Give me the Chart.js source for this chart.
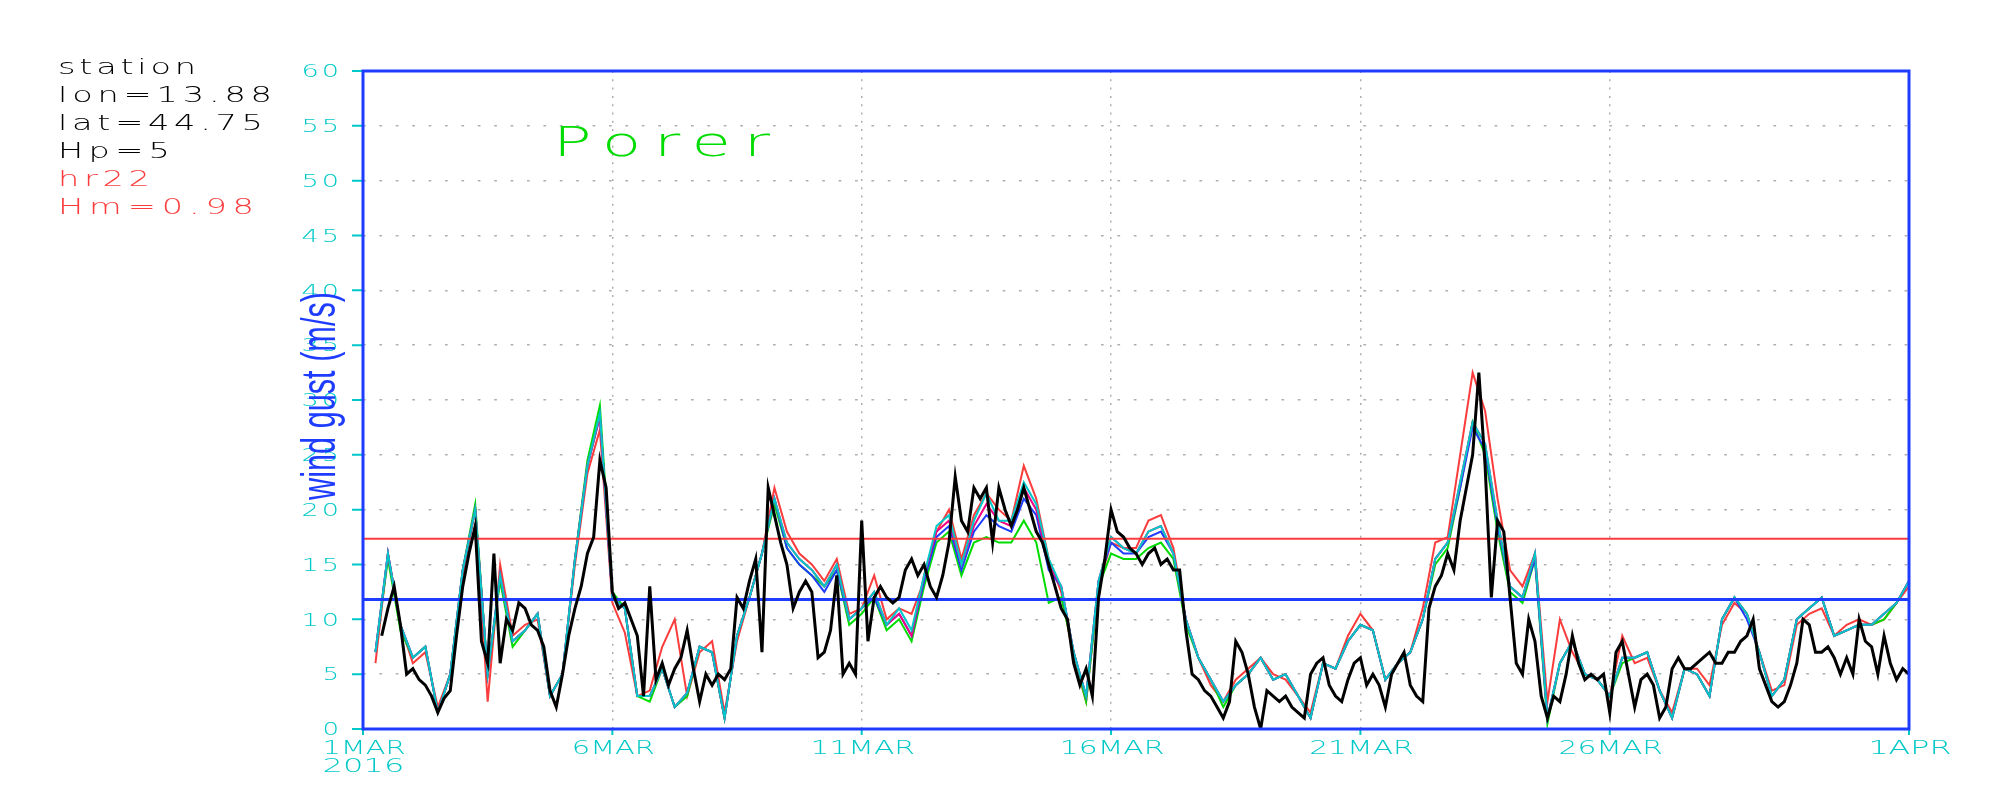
<!DOCTYPE html>
<html>
<head>
<meta charset="utf-8">
<title>Porer wind gust</title>
<script src="https://cdn.jsdelivr.net/npm/chart.js@4.4.1/dist/chart.umd.min.js"></script>
<style>
  html, body { margin: 0; padding: 0; background: #fff; }
  canvas { display: block; }
</style>
</head>
<body>
<canvas id="gust" width="2000" height="800"></canvas>
<script>
// text in the upper left corner
const stationLines = ['station', 'lon=13.88', 'lat=44.75', 'Hp=5'];
const runLines = ['hr22', 'Hm=0.98'];
const stationName = 'Porer';
const axisTitle = 'wind gust (m/s)';

// x axis counts hours from 1 MAR 2016 00
const monthHours = 744;
const tickDays = [0, 5, 10, 15, 20, 25, 31];
const tickLabels = ['1MAR', '6MAR', '11MAR', '16MAR', '21MAR', '26MAR', '1APR'];
const yearLabel = '2016';

const obsStep = 3;    // hours between observed values
const modelStep = 6;  // hours between model values

// observed gust, one row per day (00,03,...,21)
const observed = [
  null, null, null, 8.5, 11, 13, 9.5, 5,
  5.5, 4.5, 4, 3, 1.5, 2.8, 3.5, 8.5,
  13, 16, 18.5, 8, 6, 16, 6, 10,
  9, 11.5, 11, 9.5, 9, 7.5, 3.5, 2,
  5, 8.5, 11, 13, 16, 17.5, 24.5, 22,
  12.5, 11, 11.5, 10, 8.5, 3, 13, 4.5,
  6, 4, 5.5, 6.5, 9, 5.5, 2.5, 5,
  4, 5, 4.5, 5.5, 12, 11, 13.5, 15.5,
  7, 22, 19.5, 17, 15, 11, 12.5, 13.5,
  12.5, 6.5, 7, 9, 14, 5, 6, 5,
  19, 8, 12, 13, 12, 11.5, 12, 14.5,
  15.5, 14, 15, 13, 12, 14, 17, 23,
  19, 18, 22, 21, 22, 17, 22, 20,
  18.5, 20, 22, 20, 18, 17, 15, 13,
  11, 10, 6, 4, 5.5, 3, 12, 15.5,
  20, 18, 17.5, 16.5, 16, 15, 16, 16.5,
  15, 15.5, 14.5, 14.5, 9, 5, 4.5, 3.5,
  3, 2, 1, 2.5, 8, 7, 5, 2,
  0, 3.5, 3, 2.5, 3, 2, 1.5, 1,
  5, 6, 6.5, 4, 3, 2.5, 4.5, 6,
  6.5, 4, 5, 4, 2, 5, 6, 7,
  4, 3, 2.5, 11, 13, 14, 16, 14.5,
  19, 22, 25, 32.5, 24, 12, 19, 18,
  12, 6, 5, 10, 8, 3, 1, 3,
  2.5, 5, 8.5, 6, 4.5, 5, 4.5, 5,
  1.5, 7, 8, 5, 2, 4.5, 5, 4,
  1, 2, 5.5, 6.5, 5.5, 5.5, 6, 6.5,
  7, 6, 6, 7, 7, 8, 8.5, 10,
  5.5, 4, 2.5, 2, 2.5, 4, 6, 10,
  9.5, 7, 7, 7.5, 6.5, 5, 6.5, 5,
  10, 8, 7.5, 5, 8.5, 6, 4.5, 5.5,
  5
];

// model gusts, one row per day (00,06,12,18)
const modelRed = [
  null, 6, 16, 9.5,   6, 7, 2, 5,   14, 20, 2.5, 15,   8.5, 9.5, 10, 3,
  5, 15, 23.3, 27.3,   11.5, 8.8, 3, 3.5,   7.5, 10, 3, 7,   8, 1.5, 8, 12,
  16, 22, 18, 16,   15, 13.5, 15.5, 10.5,   11, 14, 10, 11,   10.5, 13.5, 18, 20,
  15.5, 19.5, 21.5, 20,   19, 24, 21, 15.5,   12.5, 6.5, 2.5, 13,   17, 16.5, 16.5, 19,
  19.5, 16.5, 10, 6.5,   4, 2.5, 4.5, 5.5,   6.5, 5, 4.5, 3,   1.5, 6, 5.5, 8.5,
  10.5, 9, 4.5, 6,   7, 11, 17, 17.5,   25, 32.5, 29, 21,   14.5, 13, 16, 2.5,
  10, 7, 5, 4.5,   3, 8.5, 6, 6.5,   3.5, 1.5, 5.5, 5.5,   4, 9.5, 11.5, 10.5,
  7, 3.5, 4, 9.5,   10.5, 11, 8.5, 9.5,   10, 9.5, 10, 11.5,   13
];
const modelGreen = [
  null, 7, 15.5, 9,   6.5, 7.5, 1.5, 5,   14.5, 20.5, 5, 13.5,   7.5, 9, 10.5, 3,
  5, 15.5, 24.5, 29.5,   12.5, 11, 3, 2.5,   5.5, 2, 3, 7.5,   7, 1, 8.5, 12,
  16, 20.5, 16.5, 15,   14, 13, 14.5, 9.5,   10.5, 12, 9, 10,   8, 13, 17, 18,
  14, 17, 17.5, 17,   17, 19, 17, 11.5,   12, 7, 2.5, 13,   16, 15.5, 15.5, 16.5,
  17, 15.5, 9.5, 6.5,   4.5, 2, 4, 5,   6.5, 4.5, 5, 3,   1, 6, 5.5, 8,
  9.5, 9, 4.5, 6,   7, 10, 15, 16.5,   22, 28, 25, 18,   12.5, 11.5, 15.5, 0.5,
  6, 8, 5, 4.5,   3, 6, 6.5, 7,   3.5, 1, 5.5, 5,   3, 10, 12, 10.5,
  7, 3, 4.5, 10,   11, 12, 8.5, 9,   9.5, 9.5, 10, 11.5,   13.5
];
const modelBlue = [
  null, 7, 16, 9.5,   6.5, 7.5, 1.5, 5,   14.5, 20, 5, 14,   8, 9, 10.5, 3,
  5, 15.5, 24, 28.5,   12, 11, 3, 3,   5.5, 2, 3.3, 7.5,   7, 1, 8.5, 12,
  16, 21, 16.5, 15,   14, 12.5, 14.5, 10,   11, 12, 9.5, 10.5,   8.5, 13.5, 17.5, 18.5,
  14.5, 18, 19.5, 18.5,   18, 21, 19.5, 14.5,   13, 7, 3, 13.5,   17, 16, 16, 17.5,
  18, 16, 10, 6.5,   4.5, 2.5, 4, 5,   6.5, 4.5, 5, 3,   1, 6, 5.5, 8,
  9.5, 9, 4.5, 6,   7, 10, 15.5, 17,   22, 27.5, 25.5, 18.5,   13, 12, 15.5, 1,
  6, 8, 5, 4.5,   3, 6.5, 6.5, 7,   3.5, 1, 5.5, 5,   3, 10, 12, 10,
  7, 3, 4.5, 10,   11, 12, 8.5, 9,   9.5, 9.5, 10.5, 11.5,   13.5
];
const modelMagenta = [
  null, 7, 16, 9.5,   6.5, 7.5, 1.5, 5,   14.5, 20, 5, 14,   8, 9, 10.5, 3,
  5, 15.5, 24, 28.5,   12, 11, 3, 3,   5.5, 2, 3.3, 7.5,   7, 1, 8.5, 12,
  16, 21, 17, 15.5,   14.5, 13, 15, 10,   11, 12.5, 9.5, 10.5,   8.5, 14, 18, 19,
  15, 18.5, 20.5, 19,   18.5, 22, 20, 15,   13, 7, 3, 13.5,   17.5, 16.5, 16, 18,
  18.5, 16, 10, 6.5,   4.5, 2.5, 4, 5,   6.5, 4.5, 5, 3,   1, 6, 5.5, 8,
  9.5, 9, 4.5, 6,   7, 10, 15.5, 17,   22.5, 28, 26, 19,   13, 12, 16, 1,
  6, 8, 5, 4.5,   3, 6.5, 6.5, 7,   3.5, 1, 5.5, 5,   3, 10, 12, 10.5,
  7, 3, 4.5, 10,   11, 12, 8.5, 9,   9.5, 9.5, 10.5, 11.5,   13.5
];
const modelCyan = [
  null, 7, 16, 9.5,   6.5, 7.5, 1.5, 5,   14.5, 20, 5, 14,   8, 9, 10.5, 3,
  5, 15.5, 24, 28.8,   12, 11, 3, 3,   5.5, 2, 3.3, 7.5,   7, 1, 8.5, 12,
  16, 21, 17, 15.5,   14.5, 13, 15, 10,   11, 12.5, 9.5, 11,   9, 14, 18.5, 19.5,
  15, 19, 21.5, 19,   19, 22.5, 20.5, 15.5,   13, 7, 3, 13.5,   17.5, 16.5, 16, 18,
  18.5, 16, 10, 6.5,   4.5, 2.5, 4, 5,   6.5, 4.5, 5, 3,   1, 6, 5.5, 8,
  9.5, 9, 4.5, 6,   7, 10, 15.5, 17,   22.5, 28, 26, 19,   13, 12, 16, 1,
  6, 8, 5, 4.5,   3, 6.5, 6.5, 7,   3.5, 1, 5.5, 5,   3, 10, 12, 10.5,
  7, 3, 4.5, 10,   11, 12, 8.5, 9,   9.5, 9.5, 10.5, 11.5,   13.5
];

// horizontal reference levels
const levelRed = 17.35;
const levelBlue = 11.8;

const grads = {
  red: 'rgb(250,60,60)',
  green: 'rgb(0,220,0)',
  blue: 'rgb(30,60,255)',
  cyan: 'rgb(0,200,200)',
  magenta: 'rgb(240,0,130)',
  grey: 'rgb(175,175,175)'
};

function toPoints(values, step) {
  return values.map((v, i) => ({ x: i * step, y: v }));
}

function line(label, values, step, color, width) {
  return {
    label: label,
    data: toPoints(values, step),
    borderColor: color,
    backgroundColor: color,
    borderWidth: width,
    pointRadius: 0,
    tension: 0,
    spanGaps: false,
    fill: false
  };
}

// GrADS-like wide text: stretch glyphs and spread letters over a given width
function wideText(ctx, str, x, y, size, width, color, align) {
  ctx.save();
  ctx.font = '200 ' + size + 'px "DejaVu Sans", sans-serif';
  ctx.textAlign = 'left';
  ctx.textBaseline = 'alphabetic';
  ctx.fillStyle = color;
  const natural = ctx.measureText(str).width;
  const sx = Math.min(1.6, width / natural);
  const gap = str.length > 1 ? (width / sx - natural) / (str.length - 1) : 0;
  let left = x;
  if (align === 'right') left = x - width;
  if (align === 'center') left = x - width / 2;
  ctx.translate(left, y);
  ctx.scale(sx, 1);
  ctx.letterSpacing = gap + 'px';
  ctx.fillText(str, 0, 0);
  ctx.restore();
}

const gradsFrame = {
  id: 'gradsFrame',
  beforeDraw(chart) {
    const ctx = chart.ctx;
    ctx.save();
    ctx.fillStyle = '#fff';
    ctx.fillRect(0, 0, chart.width, chart.height);
    ctx.restore();
  },
  afterDraw(chart) {
    const ctx = chart.ctx;
    const a = chart.chartArea;
    const xs = chart.scales.x;
    const ys = chart.scales.y;

    ctx.save();
    // tick marks
    ctx.strokeStyle = grads.cyan;
    ctx.lineWidth = 2;
    ctx.beginPath();
    ys.ticks.forEach(t => {
      const py = ys.getPixelForValue(t.value);
      ctx.moveTo(a.left - 11, py);
      ctx.lineTo(a.left, py);
    });
    tickDays.forEach(d => {
      const px = xs.getPixelForValue(d * 24);
      ctx.moveTo(px, a.bottom);
      ctx.lineTo(px, a.bottom + 6);
    });
    ctx.stroke();

    // frame
    ctx.strokeStyle = grads.blue;
    ctx.lineWidth = 3;
    ctx.strokeRect(a.left, a.top, a.right - a.left, a.bottom - a.top);
    ctx.restore();

    // y tick labels
    ys.ticks.forEach(t => {
      const s = String(t.value);
      const py = ys.getPixelForValue(t.value);
      wideText(ctx, s, a.left - 24, py + 6.2, 17, 16.6 + (s.length - 1) * 21, grads.cyan, 'right');
    });

    // x tick labels
    tickDays.forEach((d, i) => {
      const px = xs.getPixelForValue(d * 24);
      const s = tickLabels[i];
      wideText(ctx, s, px + 1, a.bottom + 25, 20, s.length * 21.3 - 2, grads.cyan, 'center');
    });
    wideText(ctx, yearLabel, a.left - 40.6, a.bottom + 43.4, 20, 82, grads.cyan, 'left');

    // station text
    const infoWidths = [138, 214, 205, 112, 92, 196];
    const infoLines = stationLines.concat(runLines);
    infoLines.forEach((s, i) => {
      const color = i < stationLines.length ? '#000' : grads.red;
      wideText(ctx, s, 58, 74 + i * 28.06, 21, infoWidths[i], color, 'left');
    });

    // title
    wideText(ctx, stationName, 553, 156, 40, 217, grads.green, 'left');

    // y axis title, condensed and rotated
    ctx.save();
    ctx.font = '48px "Liberation Sans Narrow", "Liberation Sans", sans-serif';
    ctx.fillStyle = grads.blue;
    ctx.textAlign = 'center';
    ctx.textBaseline = 'alphabetic';
    const w = ctx.measureText(axisTitle).width;
    ctx.translate(335, 396);
    ctx.rotate(-Math.PI / 2);
    ctx.scale(208 / w, 1);
    ctx.fillText(axisTitle, 0, 0);
    ctx.restore();
  }
};

const chart = new Chart(document.getElementById('gust'), {
  type: 'line',
  data: {
    datasets: [
      line('observed', observed, obsStep, '#000', 3),
      line('level blue', [levelBlue, levelBlue], monthHours, grads.blue, 3),
      line('level red', [levelRed, levelRed], monthHours, grads.red, 2),
      line('cyan', modelCyan, modelStep, grads.cyan, 2),
      line('magenta', modelMagenta, modelStep, grads.magenta, 2),
      line('blue', modelBlue, modelStep, grads.blue, 2),
      line('green', modelGreen, modelStep, grads.green, 2),
      line('red', modelRed, modelStep, grads.red, 2)
    ]
  },
  options: {
    responsive: false,
    devicePixelRatio: 1,
    animation: false,
    layout: { padding: { left: 363, top: 71, right: 91, bottom: 71 } },
    plugins: {
      legend: { display: false },
      tooltip: { enabled: false },
      title: { display: false }
    },
    scales: {
      x: {
        type: 'linear',
        min: 0,
        max: monthHours,
        afterBuildTicks: scale => {
          scale.ticks = tickDays.map(d => ({ value: d * 24 }));
        },
        ticks: { display: false },
        grid: { color: grads.grey, lineWidth: 1.5, drawTicks: false },
        border: { display: false, dash: [2, 6.3] }
      },
      y: {
        min: 0,
        max: 60,
        ticks: { display: false, stepSize: 5 },
        grid: { color: grads.grey, lineWidth: 1.5, drawTicks: false },
        border: { display: false, dash: [2.7, 13.7] }
      }
    }
  },
  plugins: [gradsFrame]
});
</script>
</body>
</html>
